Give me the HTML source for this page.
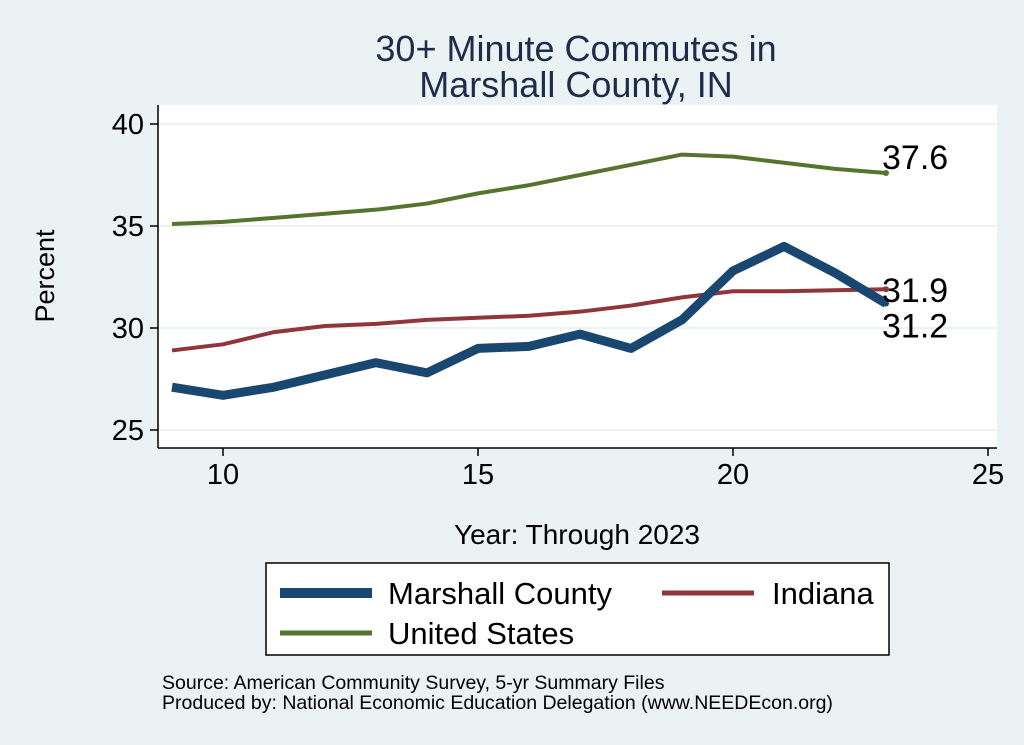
<!DOCTYPE html>
<html><head><meta charset="utf-8"><style>
body{margin:0;background:#eaf2f3;}
svg{display:block;font-family:"Liberation Sans",Arial,sans-serif;}
</style></head><body>
<svg id="chart" width="1024" height="745" viewBox="0 0 1024 745">
<rect x="0" y="0" width="1024" height="745" fill="#eaf2f3"/>
<text x="576" y="61" font-size="36" text-anchor="middle" fill="#1e2c4c">30+ Minute Commutes in</text>
<text x="576" y="97" font-size="36" text-anchor="middle" fill="#1e2c4c">Marshall County, IN</text>
<rect x="158" y="105" width="839" height="343" fill="#ffffff"/>
<g id="grid"></g><g id="axes"></g><g id="series"></g>
<text x="54" y="276" font-size="27" text-anchor="middle" transform="rotate(-90 54 276)" fill="#000">Percent</text>
<text x="577" y="544" font-size="28" text-anchor="middle" fill="#000">Year: Through 2023</text>
<g>
<rect x="266" y="563" width="623" height="92" fill="#fff" stroke="#000" stroke-width="1.5"/>
<line x1="280" y1="593" x2="372" y2="593" stroke="#1a476f" stroke-width="10"/>
<text x="388" y="604" font-size="31">Marshall County</text>
<line x1="662" y1="593" x2="754" y2="593" stroke="#90353b" stroke-width="5"/>
<text x="772" y="604" font-size="31">Indiana</text>
<line x1="280" y1="633" x2="372" y2="633" stroke="#55752f" stroke-width="5"/>
<text x="388" y="644" font-size="31">United States</text>
</g>
<text x="162" y="689" font-size="19.5">Source: American Community Survey, 5-yr Summary Files</text>
<text x="162" y="709" font-size="19.5">Produced by: National Economic Education Delegation (www.NEEDEcon.org)</text>
</svg>
<script>
const years=[9,10,11,12,13,14,15,16,17,18,19,20,21,22,23];
const marshall=[27.1,26.7,27.1,27.7,28.3,27.8,29.0,29.1,29.7,29.0,30.4,32.8,34.0,32.7,31.2];
const indiana=[28.9,29.2,29.8,30.1,30.2,30.4,30.5,30.6,30.8,31.1,31.5,31.8,31.8,31.85,31.9];
const us=[35.1,35.2,35.4,35.6,35.8,36.1,36.6,37.0,37.5,38.0,38.5,38.4,38.1,37.8,37.6];
const xTicks=[10,15,20,25];
const yTicks=[25,30,35,40];
const NS="http://www.w3.org/2000/svg";
const xs=v=>223+(v-10)*51;
const ys=v=>430-(v-25)*20.4;
function mk(tag,attrs,parent){const e=document.createElementNS(NS,tag);for(const k in attrs)e.setAttribute(k,attrs[k]);parent.appendChild(e);return e;}
const grid=document.getElementById('grid'),axes=document.getElementById('axes'),ser=document.getElementById('series');
yTicks.forEach(t=>{
 const g=mk('line',{x1:158,x2:997,y1:ys(t),y2:ys(t),stroke:'#eaf2f3','stroke-width':2},grid);
 
 
 const tk=mk('line',{x1:150,x2:158,y1:ys(t),y2:ys(t),stroke:'#000','stroke-width':1.5},axes);
 
 
 const tx=mk('text',{x:144,y:ys(t)+10,'font-size':29,'text-anchor':'end'},axes);tx.textContent=t;
 
 
});
xTicks.forEach(t=>{
 const tk=mk('line',{x1:xs(t),x2:xs(t),y1:448,y2:456,stroke:'#000','stroke-width':1.5},axes);
 
 
 const tx=mk('text',{x:xs(t),y:484,'font-size':29,'text-anchor':'middle'},axes);tx.textContent=t;
 
 
});
const ya=mk('line',{x1:158,x2:158,y1:105,y2:448,stroke:'#000','stroke-width':1.5},axes);


const xa=mk('line',{x1:158,x2:997,y1:448,y2:448,stroke:'#000','stroke-width':1.5},axes);


function line(vals,color,w,name){
 const p=mk('polyline',{points:vals.map((v,i)=>xs(years[i])+','+ys(v)).join(' '),fill:'none',stroke:color,'stroke-width':w,'stroke-linejoin':'round'},ser);
 
 
 const n=vals.length-1;
 const c=mk('circle',{cx:xs(years[n]),cy:ys(vals[n]),r:3,fill:color},ser);
 
 
}
line(us,'#55752f',4,'us-line');
line(indiana,'#90353b',4,'indiana-line');
line(marshall,'#1a476f',9,'marshall-line');
function lab(v,dy,name){const t=mk('text',{x:xs(23)-4,y:ys(v)+dy,'font-size':34},ser);t.textContent=v.toFixed(1);
 
 }
lab(us[us.length-1],-4,'us-end-label');
lab(indiana[indiana.length-1],13,'indiana-end-label');
lab(marshall[marshall.length-1],34,'marshall-end-label');
</script>
</body></html>
